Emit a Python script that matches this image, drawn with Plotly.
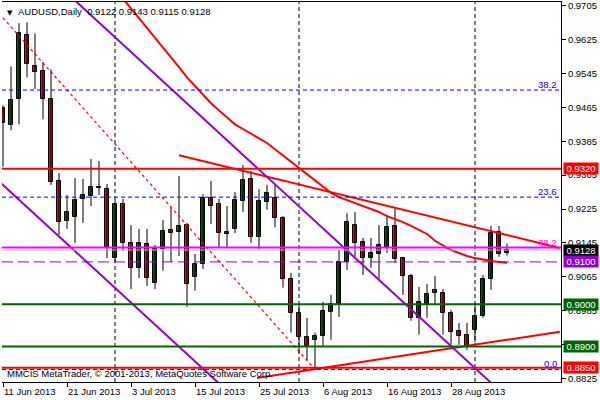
import plotly.graph_objects as go

# ---------------- data ----------------
dates = [
    "11 Jun 2013", "12 Jun 2013", "13 Jun 2013", "14 Jun 2013", "17 Jun 2013", "18 Jun 2013",
    "19 Jun 2013", "20 Jun 2013", "21 Jun 2013", "24 Jun 2013", "25 Jun 2013", "26 Jun 2013",
    "27 Jun 2013", "28 Jun 2013", "1 Jul 2013", "2 Jul 2013", "3 Jul 2013", "4 Jul 2013",
    "5 Jul 2013", "8 Jul 2013", "9 Jul 2013", "10 Jul 2013", "11 Jul 2013", "12 Jul 2013",
    "15 Jul 2013", "16 Jul 2013", "17 Jul 2013", "18 Jul 2013", "19 Jul 2013", "22 Jul 2013",
    "23 Jul 2013", "24 Jul 2013", "25 Jul 2013", "26 Jul 2013", "29 Jul 2013", "30 Jul 2013",
    "31 Jul 2013", "1 Aug 2013", "2 Aug 2013", "5 Aug 2013", "6 Aug 2013", "7 Aug 2013",
    "8 Aug 2013", "9 Aug 2013", "12 Aug 2013", "13 Aug 2013", "14 Aug 2013", "15 Aug 2013",
    "16 Aug 2013", "19 Aug 2013", "20 Aug 2013", "21 Aug 2013", "22 Aug 2013", "23 Aug 2013",
    "26 Aug 2013", "27 Aug 2013", "28 Aug 2013", "29 Aug 2013", "30 Aug 2013", "2 Sep 2013",
    "3 Sep 2013", "4 Sep 2013", "5 Sep 2013", "6 Sep 2013",
]

open_ = [0.9463, 0.9423, 0.9484, 0.9635, 0.9562, 0.9550, 0.9484, 0.9291, 0.9197, 0.9206,
         0.9249, 0.9256, 0.9274, 0.9272, 0.9109, 0.9237, 0.9145, 0.9086, 0.9142, 0.9050,
         0.9131, 0.9175, 0.9171, 0.9187, 0.9065, 0.9095, 0.9251, 0.9237, 0.9166, 0.9178,
         0.9244, 0.9296, 0.9159, 0.9241, 0.9251, 0.9204, 0.9060, 0.8980, 0.8923, 0.8916,
         0.8925, 0.8982, 0.9001, 0.9100, 0.9187, 0.9147, 0.9109, 0.9119, 0.9135, 0.9185,
         0.9109, 0.9067, 0.8968, 0.9001, 0.9034, 0.9027, 0.8980, 0.8937, 0.8928, 0.8940,
         0.8973, 0.9060, 0.9171, 0.9122]
high = [0.9470, 0.9562, 0.9664, 0.9666, 0.9640, 0.9572, 0.9555, 0.9310, 0.9258, 0.9298,
        0.9296, 0.9343, 0.9338, 0.9284, 0.9246, 0.9249, 0.9187, 0.9178, 0.9178, 0.9140,
        0.9199, 0.9230, 0.9303, 0.9192, 0.9119, 0.9260, 0.9291, 0.9249, 0.9232, 0.9265,
        0.9329, 0.9315, 0.9272, 0.9282, 0.9282, 0.9208, 0.9074, 0.8999, 0.8968, 0.8933,
        0.9006, 0.9022, 0.9128, 0.9215, 0.9218, 0.9157, 0.9157, 0.9187, 0.9211, 0.9227,
        0.9112, 0.9072, 0.9041, 0.9048, 0.9067, 0.9036, 0.8987, 0.8956, 0.8956, 0.9003,
        0.9069, 0.9185, 0.9185, 0.9143]
low = [0.9325, 0.9411, 0.9425, 0.9536, 0.9508, 0.9437, 0.9282, 0.9164, 0.9178, 0.9145,
       0.9192, 0.9232, 0.9258, 0.9109, 0.9100, 0.9126, 0.9036, 0.9062, 0.9043, 0.9036,
       0.9079, 0.9100, 0.9114, 0.8994, 0.9032, 0.9083, 0.9190, 0.9135, 0.9135, 0.9168,
       0.9218, 0.9145, 0.9131, 0.9223, 0.9182, 0.9039, 0.8933, 0.8885, 0.8867, 0.8847,
       0.8902, 0.8916, 0.8970, 0.9081, 0.9112, 0.9069, 0.9086, 0.9060, 0.9121, 0.9098,
       0.9022, 0.8961, 0.8928, 0.8968, 0.9001, 0.8928, 0.8904, 0.8904, 0.8892, 0.8911,
       0.8968, 0.9034, 0.9112, 0.9115]
close = [0.9428, 0.9482, 0.9640, 0.9567, 0.9548, 0.9484, 0.9289, 0.9194, 0.9218, 0.9246,
         0.9258, 0.9277, 0.9276, 0.9135, 0.9237, 0.9145, 0.9086, 0.9145, 0.9062, 0.9131,
         0.9173, 0.9168, 0.9185, 0.9048, 0.9095, 0.9251, 0.9232, 0.9168, 0.9171, 0.9246,
         0.9293, 0.9159, 0.9244, 0.9263, 0.9204, 0.9060, 0.8980, 0.8923, 0.8902, 0.8925,
         0.8984, 0.9001, 0.9100, 0.9194, 0.9145, 0.9109, 0.9121, 0.9140, 0.9182, 0.9107,
         0.9067, 0.8968, 0.9006, 0.9025, 0.9027, 0.8980, 0.8935, 0.8925, 0.8900, 0.8973,
         0.9060, 0.9168, 0.9119, 0.9128]

# moving average (red curve), undefined before 1 Jul
moving_avg = [None] * 14 + [
    0.9745, 0.9722, 0.9699, 0.9677, 0.9654, 0.9630, 0.9607, 0.9583, 0.9560, 0.9536,
    0.9515, 0.9494, 0.9475, 0.9458, 0.9442, 0.9425, 0.9414, 0.9402, 0.9392, 0.9381,
    0.9366, 0.9352, 0.9336, 0.9322, 0.9307, 0.9293, 0.9277, 0.9263, 0.9253, 0.9246,
    0.9239, 0.9232, 0.9225, 0.9218, 0.9208, 0.9201, 0.9194, 0.9185, 0.9175, 0.9166,
    0.9150, 0.9138, 0.9128, 0.9121, 0.9114, 0.9109, 0.9105, 0.9102, 0.9100, 0.9098]

# drawn objects: (bar index, price) anchor points
down_trend_x = [22, 69.6]
down_trend_y = [0.9352, 0.9133]
up_trend_x = [31.75, 69.6]
up_trend_y = [0.8826, 0.8935]
channel_upper_x = [8, 62]
channel_upper_y = [0.9735, 0.8797]
channel_lower_x = [-1, 27]
channel_lower_y = [0.9299, 0.8813]
fib_base_x = [-5, 39]
fib_base_y = [0.9783, 0.8846]

fib_levels = [("0.0", 0.8846), ("23.6", 0.9253), ("38.2", 0.9506)]
fib2_label, fib2_level = "38.2", 0.9134

red_levels = [0.9320, 0.8850]
green_levels = [0.9000, 0.8900]
purple_level = 0.9100
bid_price = 0.9128

price_ticks = [0.9705, 0.9625, 0.9545, 0.9465, 0.9385, 0.9305, 0.9225, 0.9145,
               0.9065, 0.8985, 0.8905, 0.8825]
date_ticks = ["11 Jun 2013", "21 Jun 2013", "3 Jul 2013", "15 Jul 2013",
              "25 Jul 2013", "6 Aug 2013", "16 Aug 2013", "28 Aug 2013"]
separators = ["1 Jul 2013", "1 Aug 2013", "2 Sep 2013"]

header = "AUDUSD,Daily\u00a0 0.9122 0.9143 0.9115 0.9128"
footer = "MMCIS MetaTrader, \u00a9 2001-2013, MetaQuotes Software Corp."

RED = "#FF0000"
GREEN = "#006400"
PURPLE = "#9400D3"
MAGENTA = "#FF00FF"
BLUE = "#0000FF"
FONT = "Liberation Sans, Arial, sans-serif"
FS = 9.5

# ---------------- figure ----------------
idx = list(range(len(dates)))
bull = [c >= o for o, c in zip(open_, close)]
body_base = [min(o, c) for o, c in zip(open_, close)]
body_h = [abs(c - o) for o, c in zip(open_, close)]
colors = [GREEN if b else RED for b in bull]

wick_x, wick_y = [], []
for i, l, h in zip(idx, low, high):
    wick_x += [i, i, None]
    wick_y += [l, h, None]

fig = go.Figure()
fig.add_trace(go.Scatter(x=wick_x, y=wick_y, mode="lines",
                         line=dict(color="black", width=1), hoverinfo="skip"))
fig.add_trace(go.Bar(x=idx, y=body_h, base=body_base, width=0.55,
                     marker=dict(color=colors, line=dict(color="black", width=1))))

fig.add_trace(go.Scatter(x=idx, y=moving_avg, mode="lines", line=dict(color=RED, width=2)))
fig.add_trace(go.Scatter(x=down_trend_x, y=down_trend_y, mode="lines", line=dict(color=RED, width=2)))
fig.add_trace(go.Scatter(x=up_trend_x, y=up_trend_y, mode="lines", line=dict(color=RED, width=2)))
fig.add_trace(go.Scatter(x=channel_upper_x, y=channel_upper_y, mode="lines", line=dict(color=PURPLE, width=2)))
fig.add_trace(go.Scatter(x=channel_lower_x, y=channel_lower_y, mode="lines", line=dict(color=PURPLE, width=2)))
fig.add_trace(go.Scatter(x=fib_base_x, y=fib_base_y, mode="lines",
                         line=dict(color=RED, width=1.2, dash="3px,3px")))

# period separators
for d in separators:
    k = dates.index(d)
    fig.add_shape(type="line", xref="x", x0=k, x1=k, yref="paper", y0=0, y1=1,
                  line=dict(color="black", width=1, dash="4px,3px"), layer="below")

def hline(v, color, width, dash="solid"):
    fig.add_shape(type="line", xref="paper", x0=0, x1=1, yref="y", y0=v, y1=v,
                  line=dict(color=color, width=width, dash=dash))

for name, v in fib_levels:
    hline(v, BLUE, 1, "4px,3px")
    fig.add_annotation(xref="paper", x=1, xanchor="right", xshift=-2,
                       yref="y", y=v, yanchor="bottom", yshift=-2, text=name,
                       showarrow=False, font=dict(family=FONT, size=FS, color=BLUE))
hline(bid_price, "#C0C0C0", 1)
hline(fib2_level, MAGENTA, 2)
fig.add_annotation(xref="paper", x=1, xanchor="right", xshift=-2,
                   yref="y", y=fib2_level, yanchor="bottom", yshift=-2, text=fib2_label,
                   showarrow=False, font=dict(family=FONT, size=FS, color=MAGENTA))
hline(purple_level, PURPLE, 1, "11px,5px")
for v in green_levels:
    hline(v, GREEN, 2)
for v in red_levels:
    hline(v, RED, 2)

# price tags on the right scale
tags = [(red_levels[0], RED), (bid_price, "#000000"), (purple_level, PURPLE),
        (green_levels[0], GREEN), (green_levels[1], GREEN), (red_levels[1], RED)]
for v, c in tags:
    fig.add_annotation(xref="paper", x=1, xanchor="left", xshift=2,
                       yref="y", y=v, yanchor="middle", text=f"{v:.4f}",
                       showarrow=False, bgcolor=c, borderpad=1, width=32, height=9,
                       align="center", font=dict(family=FONT, size=FS, color="white"))

# date labels (left aligned at their tick)
for d in date_ticks:
    fig.add_annotation(xref="x", x=dates.index(d), xanchor="left", xshift=-1,
                       yref="paper", y=0, yanchor="top", yshift=-2, text=d,
                       showarrow=False, font=dict(family=FONT, size=FS, color="black"))

fig.add_annotation(xref="paper", x=0, xanchor="left", xshift=3, yref="paper", y=1,
                   yanchor="top", yshift=-5, text="\u25bc", showarrow=False,
                   font=dict(family="DejaVu Sans", size=7, color="black"))
fig.add_annotation(xref="paper", x=0, xanchor="left", xshift=14, yref="paper", y=1,
                   yanchor="top", yshift=-2, text=header, showarrow=False,
                   font=dict(family=FONT, size=FS, color="black"))
fig.add_annotation(xref="paper", x=0, xanchor="left", xshift=3, yref="paper", y=0,
                   yanchor="bottom", yshift=1, text=footer, showarrow=False,
                   font=dict(family=FONT, size=FS, color="black"))

fig.update_layout(
    width=600, height=400,
    margin=dict(l=2, r=39, t=2, b=18, autoexpand=False),
    paper_bgcolor="white", plot_bgcolor="white",
    showlegend=False, bargap=0,
    font=dict(family=FONT, size=FS, color="black"),
    xaxis=dict(range=[-0.125, 69.75], showgrid=False, zeroline=False,
               showline=True, linecolor="black", linewidth=1, mirror=True,
               tickvals=[dates.index(d) for d in date_ticks], ticks="outside",
               ticklen=4, tickcolor="black", showticklabels=False, fixedrange=True),
    yaxis=dict(range=[0.88163, 0.97140], side="right", showgrid=False, zeroline=False,
               showline=True, linecolor="black", linewidth=1,
               tickvals=price_ticks, tickformat=".4f", ticks="outside", ticklen=4,
               tickcolor="black", tickfont=dict(family=FONT, size=FS, color="black")),
)

# the page's default 8px body margin would push the 600x400 figure off the window
fig.write_html("out.html", config={"displayModeBar": False},
               post_script="document.body.style.margin='0';document.body.style.overflow='hidden';")
